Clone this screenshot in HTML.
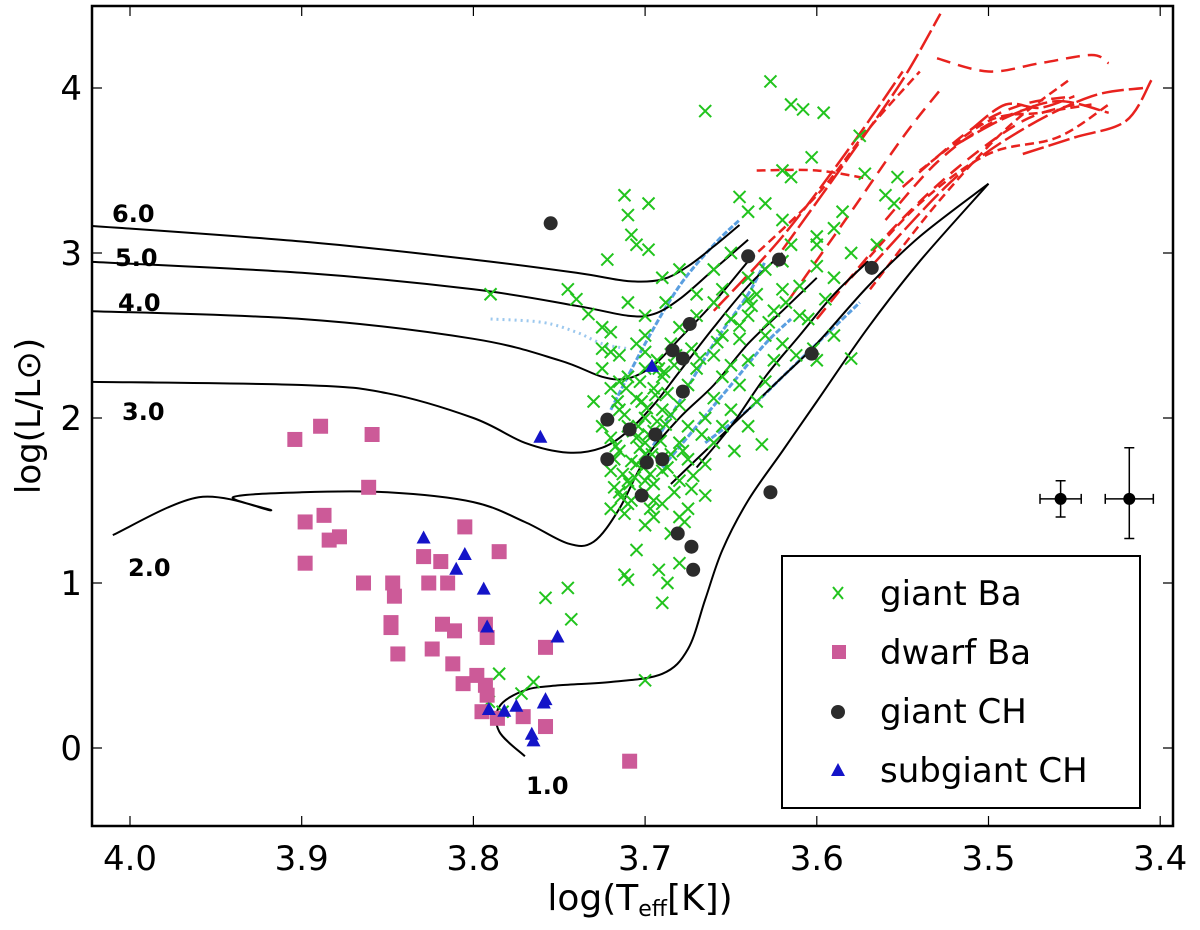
<!DOCTYPE html>
<html><head><meta charset="utf-8"><style>
body{margin:0;background:#fff;}
svg{display:block;font-family:"DejaVu Sans","Liberation Sans",sans-serif;}
</style></head><body>
<svg id="chart" width="1200" height="930" viewBox="0 0 1200 930" xmlns="http://www.w3.org/2000/svg">
<rect x="0" y="0" width="1200" height="930" fill="#fff"/>
<g id="tracks"></g>
<g id="marks"></g>
<g id="axes"></g>
</svg>
<script>
// ---- data ----
const xTicks=[4.0,3.9,3.8,3.7,3.6,3.5,3.4];
const xTickLabels=["4.0","3.9","3.8","3.7","3.6","3.5","3.4"];
const yTicks=[0,1,2,3,4];
const yTickLabels=["0","1","2","3","4"];

const giantBaT=[3.665,3.627,3.615,3.608,3.596,3.575,3.553,3.572,3.603,3.615,3.62,3.645,3.712,3.710,3.698,3.708,3.705,3.698,3.722,3.740,3.790,3.733,3.745,3.725,3.600,3.580,3.602,3.59,3.6,3.59,3.585,3.56,3.555,3.63,3.62,3.64,3.632,3.58,3.565,
3.745,3.743,3.758,3.70,3.71,3.712,3.69,3.687,3.665,3.673,3.70,3.705,3.697,3.68,3.685,3.677,3.783,3.772,3.765,3.791,3.785,
3.72,3.715,3.71,3.72,3.705,3.715,3.72,3.71,3.70,3.715,3.705,3.72,3.71,3.70,3.715,3.705,3.72,3.695,3.69,3.70,3.695,3.69,3.695,3.69,3.70,3.685,3.68,3.685,3.68,3.675,3.68,3.675,3.67,3.68,3.67,3.665,3.66,3.665,3.66,3.655,3.66,3.655,3.65,3.66,3.65,3.645,3.64,3.645,3.64,3.635,3.64,3.63,3.625,3.62,3.63,3.62,3.61,3.61,3.615,3.60,3.60,3.595,3.605,3.59,3.65,3.66,3.67,3.688,3.70,3.71,3.725,3.725,3.718,3.708,3.70,3.69,3.683,3.7,3.703,3.693,3.687,3.675,3.672,3.667,3.655,3.648,3.64,3.635,3.625,3.62,3.612,3.63,3.64,3.655,3.68,3.69,3.725,3.73,3.712,3.695,3.692,3.68,3.675,
3.718,3.713,3.708,3.703,3.698,3.693,3.716,3.711,3.706,3.701,3.696,3.691,3.714,3.709,3.704,3.699,3.694,3.689,3.717,3.707,3.697,3.687,3.712,3.702,3.692,3.682,3.715,3.705,3.695,3.685,3.710,3.700,3.690,3.720,3.700,3.688,3.678,3.683,3.673,3.668,3.658,3.650,3.645,3.638,3.628,3.618];
const giantBaL=[3.86,4.04,3.90,3.87,3.85,3.71,3.46,3.48,3.58,3.46,3.50,3.34,3.35,3.23,3.30,3.11,3.05,3.02,2.96,2.72,2.75,2.63,2.78,2.55,2.35,2.36,2.42,2.50,3.1,3.15,3.25,3.35,3.3,3.3,3.2,3.25,1.84,3.0,3.05,
0.97,0.78,0.91,0.41,1.02,1.05,0.88,1.0,1.53,1.57,1.35,1.20,1.45,1.40,1.30,1.37,0.22,0.33,0.40,0.28,0.45,
1.45,1.55,1.62,1.68,1.72,1.80,1.88,1.95,2.0,2.05,2.12,2.18,2.25,2.30,2.38,2.45,2.52,1.60,1.68,1.85,1.92,2.05,2.18,2.25,2.40,2.45,1.62,1.78,1.85,1.95,2.08,2.20,2.30,2.55,2.62,1.72,1.85,2.00,2.12,2.25,2.38,2.50,2.60,2.70,2.05,2.20,2.35,2.48,2.62,2.75,2.85,2.50,2.65,2.78,2.90,2.95,2.80,2.62,3.05,2.92,3.05,2.72,2.60,2.85,3.0,2.9,2.75,2.70,2.62,2.7,1.95,2.3,1.75,1.50,1.55,1.48,1.55,1.78,2.22,2.35,2.15,1.75,1.65,1.90,1.95,1.80,1.95,2.10,2.35,2.45,2.38,2.22,2.72,2.78,2.9,2.85,2.42,2.10,1.42,1.40,1.08,1.12,1.45,
1.58,1.66,1.74,1.82,1.90,1.98,2.10,2.18,1.64,1.70,1.78,1.86,1.52,1.60,1.95,2.06,2.14,2.28,1.83,1.92,1.66,1.70,2.02,2.10,2.30,2.38,2.22,1.88,1.50,2.02,1.48,1.62,1.76,2.40,2.50,1.96,1.80,2.32,2.42,2.36,2.46,2.32,2.56,2.68,2.58,2.70];

const dwarfBaT=[3.904,3.889,3.859,3.861,3.898,3.887,3.884,3.878,3.898,3.805,3.864,3.847,3.846,3.848,3.848,3.844,3.829,3.819,3.826,3.815,3.785,3.818,3.811,3.824,3.793,3.792,3.812,3.806,3.798,3.793,3.792,3.795,3.786,3.758,3.758,3.771,3.709];
const dwarfBaL=[1.87,1.95,1.90,1.58,1.37,1.41,1.26,1.28,1.12,1.34,1.00,1.00,0.92,0.76,0.73,0.57,1.16,1.13,1.00,1.00,1.19,0.75,0.71,0.60,0.75,0.67,0.51,0.39,0.44,0.38,0.32,0.22,0.18,0.61,0.13,0.19,-0.08];

const giantCHT=[3.755,3.640,3.622,3.568,3.603,3.674,3.684,3.678,3.678,3.722,3.722,3.709,3.694,3.699,3.690,3.702,3.627,3.681,3.673,3.672];
const giantCHL=[3.18,2.98,2.96,2.91,2.39,2.57,2.41,2.36,2.16,1.99,1.75,1.93,1.90,1.73,1.75,1.53,1.55,1.30,1.22,1.08];

const subCHT=[3.829,3.805,3.810,3.794,3.792,3.751,3.761,3.696,3.791,3.782,3.775,3.759,3.758,3.766,3.765];
const subCHL=[1.27,1.17,1.08,0.96,0.73,0.67,1.88,2.31,0.23,0.22,0.25,0.27,0.29,0.08,0.04];

const errT=[3.458,3.418];
const errL=[1.51,1.51];
const errDT=[0.012,0.014];
const errDLup=[0.11,0.31];
const errDLdn=[0.11,0.24];

// black evolutionary tracks (logT, logL)
const trk6T=[4.03,3.9,3.8,3.74,3.71,3.69,3.675,3.66,3.645];
const trk6L=[3.17,3.07,2.96,2.88,2.83,2.84,2.92,3.04,3.17];
const trk5T=[4.03,3.9,3.8,3.74,3.71,3.695,3.68,3.66,3.64];
const trk5L=[2.95,2.88,2.78,2.68,2.62,2.63,2.72,2.9,3.08];
const trk4T=[4.03,3.9,3.8,3.75,3.725,3.71,3.695,3.68,3.66,3.64];
const trk4L=[2.65,2.60,2.48,2.35,2.25,2.24,2.32,2.48,2.7,2.95];
const trk3T=[4.03,3.9,3.85,3.8,3.77,3.745,3.725,3.71,3.695,3.68,3.66,3.64,3.62];
const trk3L=[2.22,2.20,2.15,2.00,1.85,1.79,1.82,1.92,2.08,2.28,2.55,2.8,3.0];
const trk2T=[4.01,3.96,3.918,3.94,3.9,3.85,3.8,3.77,3.745,3.73,3.715,3.70,3.68,3.66,3.64,3.62,3.6];
const trk2L=[1.29,1.52,1.44,1.52,1.55,1.55,1.49,1.37,1.24,1.25,1.45,1.75,2.0,2.2,2.45,2.65,2.85];
const trk1T=[3.77,3.785,3.785,3.77,3.75,3.72,3.69,3.675,3.665,3.655,3.64,3.62,3.6,3.57,3.54,3.5];
const trk1L=[-0.05,0.1,0.25,0.35,0.38,0.40,0.45,0.6,0.9,1.2,1.5,1.8,2.1,2.55,2.95,3.42];
const trkRgbT=[3.685,3.66,3.64,3.62,3.6,3.57,3.54,3.5];
const trkRgbL=[1.6,1.85,2.05,2.25,2.45,2.8,3.1,3.42];
const trkRgb2T=[3.67,3.65,3.63,3.61,3.59,3.57];
const trkRgb2L=[1.7,1.95,2.25,2.5,2.75,2.95];

// blue tracks
const blue1T=[3.72,3.70,3.68,3.66,3.645];const blue1L=[2.05,2.45,2.8,3.05,3.2];
const blue2T=[3.79,3.76,3.74,3.725,3.71];const blue2L=[2.6,2.58,2.52,2.45,2.42];
const blue3T=[3.70,3.68,3.66,3.64,3.63];const blue3L=[1.75,2.1,2.45,2.75,2.95];
const blue4T=[3.69,3.67,3.65,3.63,3.615];const blue4L=[1.7,1.95,2.2,2.45,2.6];
const blue5T=[3.665,3.64,3.62,3.6,3.575];const blue5L=[1.85,2.05,2.25,2.45,2.7];

// red tracks
const red1T=[3.62,3.58,3.55,3.528];const red1L=[3.02,3.6,4.05,4.45];
const red2T=[3.616,3.58,3.55,3.528];const red2L=[2.72,3.25,3.7,3.99];
const red3T=[3.569,3.53,3.49,3.453];const red3L=[2.78,3.3,3.75,4.05];
const red4T=[3.57,3.52,3.48,3.44,3.41];const red4L=[2.9,3.45,3.75,3.95,4.0];
const red5T=[3.60,3.56,3.52,3.48,3.45];const red5L=[2.6,3.1,3.5,3.8,3.9];
const red6T=[3.58,3.54,3.5,3.46,3.43];const red6L=[2.85,3.3,3.6,3.7,3.9];
const red7T=[3.66,3.62,3.58,3.55];const red7L=[2.65,3.1,3.65,4.1];
const red8T=[3.53,3.50,3.47,3.44,3.43];const red8L=[4.18,4.1,4.15,4.2,4.15];
const red9T=[3.635,3.60,3.57];const red9L=[3.5,3.5,3.45];
const red10T=[3.48,3.45,3.42,3.405];const red10L=[3.6,3.7,3.8,4.05];
const red11T=[3.55,3.51,3.48,3.45];const red11L=[3.4,3.75,3.9,3.95];
const red12T=[3.54,3.50,3.47,3.44];const red12L=[3.5,3.8,3.85,3.9];
const red13T=[3.52,3.49,3.46,3.43];const red13L=[3.65,3.82,3.92,3.85];
const red14T=[3.56,3.53,3.50,3.47];const red14L=[3.2,3.55,3.78,3.9];
const red15T=[3.64,3.60,3.57,3.54];const red15L=[2.95,3.35,3.75,4.1];
const red16T=[3.51,3.49,3.47,3.45];const red16L=[3.75,3.9,3.88,3.95];

// ---- scales ----
function X(t){return 130+(4.0-t)*1717;}
function Y(l){return 748-l*165;}
const NS="http://www.w3.org/2000/svg";
function mk(tag,parent,attrs){const e=document.createElementNS(NS,tag);for(const k in attrs)e.setAttribute(k,attrs[k]);parent.appendChild(e);return e;}
const gT=document.getElementById('tracks'),gM=document.getElementById('marks'),gA=document.getElementById('axes');

const defs=mk('defs',document.getElementById('chart'),{});
const cp=mk('clipPath',defs,{id:'pc'});mk('rect',cp,{x:92,y:6,width:1081,height:820});
gT.setAttribute('clip-path','url(#pc)');gM.setAttribute('clip-path','url(#pc)');

function smooth(T,L){
  const P=T.map((t,i)=>[X(t),Y(L[i])]);
  let d='M'+P[0][0].toFixed(1)+','+P[0][1].toFixed(1);
  for(let i=0;i<P.length-1;i++){
    const p0=P[i-1]||P[i],p1=P[i],p2=P[i+1],p3=P[i+2]||P[i+1];
    const c1=[p1[0]+(p2[0]-p0[0])/6,p1[1]+(p2[1]-p0[1])/6],c2=[p2[0]-(p3[0]-p1[0])/6,p2[1]-(p3[1]-p1[1])/6];
    d+=`C${c1[0].toFixed(1)},${c1[1].toFixed(1)} ${c2[0].toFixed(1)},${c2[1].toFixed(1)} ${p2[0].toFixed(1)},${p2[1].toFixed(1)}`;
  }
  return d;
}
function line(T,L,name,stroke,w,dash){
  const p=mk('path',gT,{d:smooth(T,L),fill:'none',stroke:stroke,'stroke-width':w});
  if(dash)p.setAttribute('stroke-dasharray',dash);
  
  
}
[[red1T,red1L],[red2T,red2L],[red3T,red3L],[red4T,red4L],[red5T,red5L],[red6T,red6L],[red7T,red7L],[red8T,red8L],[red9T,red9L],[red10T,red10L],[red11T,red11L],[red12T,red12L],[red13T,red13L],[red14T,red14L],[red15T,red15L],[red16T,red16L]].forEach((r,i)=>line(r[0],r[1],'red-track-'+(i+1),'#e8221e',2.5,i%3==1?'14,8':(i%3==2?'9,5':'22,5')));
[[blue1T,blue1L],[blue3T,blue3L],[blue4T,blue4L],[blue5T,blue5L]].forEach((r,i)=>line(r[0],r[1],'blue-track-'+(i+1),'#5a9fe0',3,'6,2'));
line(blue2T,blue2L,'blue-track-dotted','#9cc8ee',3,'2,4');
[[trk6T,trk6L,'6'],[trk5T,trk5L,'5'],[trk4T,trk4L,'4'],[trk3T,trk3L,'3'],[trk2T,trk2L,'2'],[trk1T,trk1L,'1'],[trkRgbT,trkRgbL,'rgb-a'],[trkRgb2T,trkRgb2L,'rgb-b']].forEach(r=>line(r[0],r[1],'track-'+r[2]+'-msun','#000',2,null));

giantBaT.forEach((t,i)=>{const x=X(t),y=Y(giantBaL[i]),s=6;
  const p=mk('path',gM,{d:`M${x-s},${y-s}L${x+s},${y+s}M${x-s},${y+s}L${x+s},${y-s}`,stroke:'#22c41e','stroke-width':2});
  
  });
dwarfBaT.forEach((t,i)=>{const x=X(t),y=Y(dwarfBaL[i]);
  const r=mk('rect',gM,{x:x-7.5,y:y-7.5,width:15,height:15,fill:'#cc5a98'});
  
  });
giantCHT.forEach((t,i)=>{
  const c=mk('circle',gM,{cx:X(t),cy:Y(giantCHL[i]),r:7,fill:'#2b2b2b'});
  
  });
subCHT.forEach((t,i)=>{const x=X(t),y=Y(subCHL[i]);
  const p=mk('path',gM,{d:`M${x},${y-8}L${x+7},${y+5}L${x-7},${y+5}Z`,fill:'#1414c8'});
  
  });
errT.forEach((t,i)=>{const x=X(t),y=Y(errL[i]),dx=errDT[i]*1717;
  const g=mk('g',gM,{});
  
  
  mk('path',g,{d:`M${x-dx},${y}L${x+dx},${y}M${x-dx},${y-5}L${x-dx},${y+5}M${x+dx},${y-5}L${x+dx},${y+5}M${x},${Y(errL[i]+errDLup[i])}L${x},${Y(errL[i]-errDLdn[i])}M${x-5},${Y(errL[i]+errDLup[i])}L${x+5},${Y(errL[i]+errDLup[i])}M${x-5},${Y(errL[i]-errDLdn[i])}L${x+5},${Y(errL[i]-errDLdn[i])}`,stroke:'#000','stroke-width':1.5,fill:'none'});
  mk('circle',g,{cx:x,cy:y,r:6,fill:'#000'});});

const fr=mk('rect',gA,{x:92,y:6,width:1081,height:820,fill:'none',stroke:'#000','stroke-width':2.5});


xTicks.forEach((t,i)=>{const x=X(t);
  mk('path',gA,{d:`M${x},826L${x},816M${x},6L${x},16`,stroke:'#000','stroke-width':1.2});
  const tx=mk('text',gA,{x:x,y:870,'font-size':34,'text-anchor':'middle',fill:'#000'});tx.textContent=xTickLabels[i];
  
  });
yTicks.forEach((l,i)=>{const y=Y(l);
  mk('path',gA,{d:`M92,${y}L102,${y}M1173,${y}L1163,${y}`,stroke:'#000','stroke-width':1.2});
  const tx=mk('text',gA,{x:82,y:y+12,'font-size':34,'text-anchor':'end',fill:'#000'});tx.textContent=yTickLabels[i];
  
  });
</script>
<svg style="position:absolute;left:0;top:0" width="1200" height="930" xmlns="http://www.w3.org/2000/svg">
<g font-family="DejaVu Sans, Liberation Sans, sans-serif" font-size="24" font-weight="bold" fill="#000">
<text x="112" y="222">6.0</text>
<text x="115" y="266">5.0</text>
<text x="118" y="311">4.0</text>
<text x="122" y="420">3.0</text>
<text x="128" y="576">2.0</text>
<text x="526" y="794">1.0</text>
</g>
<text x="640" y="910" font-family="DejaVu Sans, Liberation Sans, sans-serif" font-size="36" text-anchor="middle">log(T<tspan font-size="22" dy="6">eff</tspan><tspan dy="-6">[K])</tspan></text>
<text transform="translate(40,416) rotate(-90)" font-family="DejaVu Sans, Liberation Sans, sans-serif" font-size="34" text-anchor="middle">log(L/L⊙)</text>
<g>
<rect x="782" y="556" width="358" height="252" fill="#fff" stroke="#000" stroke-width="2"/>
<g font-family="DejaVu Sans, Liberation Sans, sans-serif" font-size="34" fill="#000">
<path d="M833,587L843,599M833,599L843,587" stroke="#22c41e" stroke-width="2"/>
<text x="880" y="605">giant Ba</text>
<rect x="832" y="645" width="14" height="14" fill="#cc5a98"/>
<text x="880" y="664">dwarf Ba</text>
<circle cx="838" cy="712" r="7" fill="#2b2b2b"/>
<text x="880" y="723">giant CH</text>
<path d="M838,763L845,776L831,776Z" fill="#1414c8"/>
<text x="880" y="782">subgiant CH</text>
</g></g>
</svg>
</body></html>
